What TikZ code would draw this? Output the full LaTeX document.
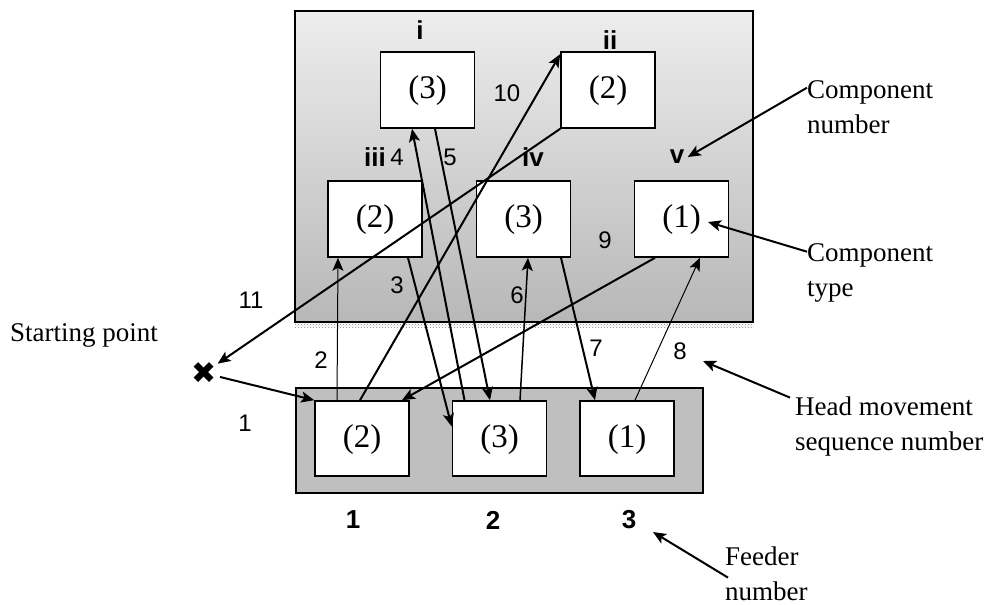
\documentclass[tikz,border=0pt]{standalone}
\usepackage{fontspec}
\setmainfont{Liberation Serif}
\newfontfamily\arialfont{Liberation Sans}
\newfontfamily\symfont{DejaVu Sans}
\usetikzlibrary{arrows.meta, patterns, calc}

\begin{document}
\begin{tikzpicture}[x=1pt, y=-1pt,
  comp/.style={draw, line width=1.6pt, fill=white, minimum width=94pt, minimum height=76pt,
    inner sep=0pt, text depth=0.5em, font=\fontsize{33}{36}\selectfont},
  mv/.style={line width=2pt, -{Stealth[length=13pt, width=11pt, inset=3pt]}},
  num/.style={font=\arialfont\fontsize{24}{26}\selectfont},
  tag/.style={font=\arialfont\bfseries\fontsize{26}{28}\selectfont},
  note/.style={anchor=north west, align=left, inner sep=0pt, font=\fontsize{27}{35}\selectfont}]
  \useasboundingbox (0,0) rectangle (989,605);

  % Placement board with its dotted edge
  \fill[pattern=crosshatch dots, pattern color=black!50] (295,322) rectangle (753,327);
  \node[draw, line width=1.8pt, top color=black!7, bottom color=black!28,
        minimum width=458pt, minimum height=311pt, inner sep=0pt] (board) at (524,166.5) {};

  % Feeder tray
  \node[draw, line width=1.8pt, fill=black!25, minimum width=407pt, minimum height=105pt,
        inner sep=0pt] (tray) at (499.5,440.5) {};

  % Component slots on the board
  \node[comp] (ci)   at (427.5,90)  {(3)};
  \node[comp] (cii)  at (608,90)    {(2)};
  \node[comp] (ciii) at (375,219)   {(2)};
  \node[comp] (civ)  at (523.5,219) {(3)};
  \node[comp] (cv)   at (681.5,219) {(1)};

  % Feeders
  \node[comp, minimum height=75pt] (f1) at (362,438.5)   {(2)};
  \node[comp, minimum height=75pt] (f2) at (499.5,438.5) {(3)};
  \node[comp, minimum height=75pt] (f3) at (627,438.5)   {(1)};

  % Component numbers and feeder numbers
  \node[tag] (li)   at (420,30)  {i};
  \node[tag] (lii)  at (610,40)  {ii};
  \node[tag] (liii) at (375,157) {iii};
  \node[tag] (liv)  at (533,157) {iv};
  \node[tag] (lv)   at (677,157) {v};
  \node[tag] (lf1)  at (353,520) {1};
  \node[tag] (lf2)  at (493,520) {2};
  \node[tag] (lf3)  at (629,520) {3};

  % Head movement sequence numbers
  \node[num] (n1)  at (245,423) {1};
  \node[num] (n2)  at (321,360) {2};
  \node[num] (n3)  at (397,285) {3};
  \node[num] (n4)  at (397,157) {4};
  \node[num] (n5)  at (450,157) {5};
  \node[num] (n6)  at (517,295) {6};
  \node[num] (n7)  at (596,348) {7};
  \node[num] (n8)  at (680,351) {8};
  \node[num] (n9)  at (605,240) {9};
  \node[num] (n10) at (507,93)  {10};
  \node[num] (n11) at (251,300) {11};

  % Starting point of the head
  \node[circle, inner sep=0pt, minimum size=22pt, font=\symfont\fontsize{30}{30}\selectfont]
        (start) at (204,373) {✖};

  % Head movements
  \draw[mv] (start) -- (f1.north west);                                        % 1
  \draw[mv, line width=1pt] ([xshift=-25pt]f1.north) -- ([xshift=-37pt]ciii.south); % 2
  \draw[mv] ([xshift=33pt]ciii.south) -- ([yshift=12pt]f2.west);              % 3
  \draw[mv] ([xshift=-35pt]f2.north) -- ([xshift=-15.5pt]ci.south);           % 4
  \draw[mv] ([xshift=7.5pt]ci.south) -- ([xshift=-9.5pt]f2.north);            % 5
  \draw[mv, line width=1.5pt] ([xshift=20.5pt]f2.north) -- ([xshift=4.5pt]civ.south); % 6
  \draw[mv] ([xshift=37.5pt]civ.south) -- ([xshift=-32pt]f3.north);           % 7
  \draw[mv, line width=1pt] ([xshift=8pt]f3.north) -- ([xshift=18.5pt]cv.south); % 8
  \draw[mv] ([xshift=-26.5pt]cv.south) -- ([xshift=40pt]f1.north);            % 9
  \draw[mv] ([xshift=-2pt]f1.north) -- ([yshift=-3pt]cii.north west);         % 10
  \draw[mv] (cii.south west) -- (start);                                      % 11

  % Explanations
  \node[note] (lblnum)   at (807,80.7)  {Component\\number};
  \node[note] (lbltype)  at (807,243.7) {Component\\type};
  \node[note] (lblhead)  at (795,396.6) {Head movement\\sequence number};
  \node[note] (lblfeed)  at (725,546.6) {Feeder\\number};
  \node[note] (lblstart) at (10,323.6)  {Starting point};

  \draw[mv] ([yshift=-7pt]lblnum.north west) -- (lv.east);
  \draw[mv] ([yshift=-8pt]lbltype.north west) -- ([xshift=26.5pt, yshift=-3pt]cv.center);
  \draw[mv] ([xshift=-5pt, yshift=-1pt]lblhead.north west) -- ([xshift=23pt, yshift=-10pt]n8.center);
  \draw[mv] ([xshift=3pt, yshift=-31pt]lblfeed.north west) -- ([xshift=24pt, yshift=-12pt]lf3.center);

\end{tikzpicture}
\end{document}
